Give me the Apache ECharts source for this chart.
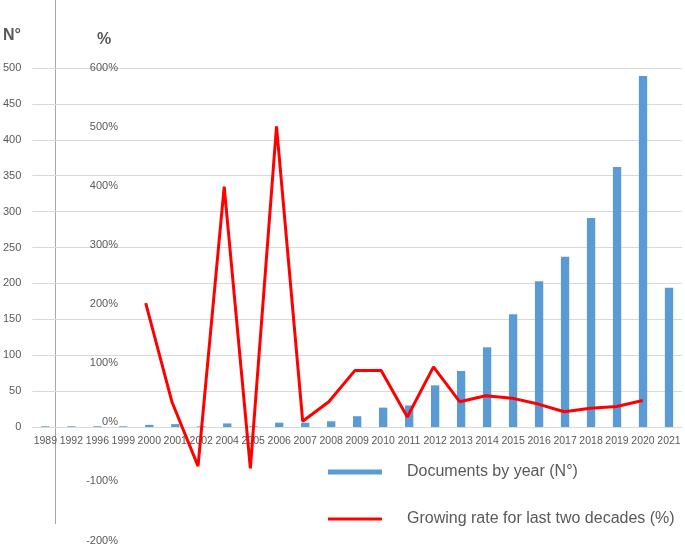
<!DOCTYPE html>
<html>
<head>
<meta charset="utf-8">
<script src="https://cdn.jsdelivr.net/npm/echarts@6/dist/echarts.min.js"></script>
<style>html,body{margin:0;padding:0;background:#fff;}#c{width:685px;height:546px;}</style>
</head>
<body>
<div id="c"></div>
<script>
const categories = ['1989','1992','1996','1999','2000','2001','2002','2004','2005','2006','2007','2008','2009','2010','2011','2012','2013','2014','2015','2016','2017','2018','2019','2020','2021'];
const documents = [1,1,1,1,3,4,1,5,1,6,6,8,15,27,30,58,78,111,157,203,237,291,362,489,194];
const growthRate = [null,null,null,null,202,35,-74,399,-78,501,2,35,88,88,9,94,35,45,41,31,18,24,27,37,null];
const leftTicks = {min:0, max:500, interval:50};
const rightTicks = {min:-200, max:600, interval:100};

const txt = '#595959';
const font = 'Liberation Sans';
const legendText = {color:txt, fontSize:16, fontFamily:font, padding:[8,0,0,20]};
const chart = echarts.init(document.getElementById('c'), null, {renderer:'canvas'});
chart.setOption({
  animation:false,
  textStyle:{fontFamily:font},
  grid:[
    {left:28, right:3, top:68, bottom:119},
    {left:28, right:3, top:68, bottom:3}
  ],
  xAxis:[
    {type:'category', gridIndex:0, data:categories,
     axisLine:{lineStyle:{color:'#D9D9D9'}}, axisTick:{show:false},
     axisLabel:{color:txt, fontSize:10.5, fontFamily:font, margin:9, interval:0}},
    {type:'category', gridIndex:1, data:categories, show:false}
  ],
  yAxis:[
    {type:'value', gridIndex:0, min:leftTicks.min, max:leftTicks.max, interval:leftTicks.interval,
     axisLine:{show:false}, axisTick:{show:false},
     axisLabel:{color:txt, fontSize:11, fontFamily:font, margin:11},
     splitLine:{lineStyle:{color:'#D9D9D9', width:1}}},
    {type:'value', gridIndex:1, min:rightTicks.min, max:rightTicks.max, interval:rightTicks.interval,
     position:'left', offset:-100,
     axisLine:{show:false}, axisTick:{show:false}, splitLine:{show:false},
     axisLabel:{color:txt, fontSize:11, fontFamily:font, margin:10, formatter:'{value}%'}}
  ],
  legend:[
    {left:323, top:459, itemWidth:54, itemHeight:5, textStyle:legendText,
     data:[{name:'Documents by year (N°)', icon:'path://M0,0H54V5H0Z'}]},
    {left:323, top:506, itemWidth:54, itemHeight:5, textStyle:legendText,
     data:[{name:'Growing rate for last two decades (%)', icon:'path://M0,1H54V4H0Z'}]}
  ],
  graphic:[
    {type:'line', shape:{x1:55.5, y1:0, x2:55.5, y2:524}, style:{stroke:'#A6A6A6', lineWidth:1}, z:0},
    {type:'text', left:3, top:28, style:{text:'N°', fill:txt, fontSize:16, fontWeight:'bold', fontFamily:font}},
    {type:'text', left:97, top:32, style:{text:'%', fill:txt, fontSize:16, fontWeight:'bold', fontFamily:font}}
  ],
  series:[
    {name:'Documents by year (N°)', type:'bar', xAxisIndex:0, yAxisIndex:0, data:documents,
     barWidth:'32%', itemStyle:{color:'#5B9BD5'}},
    {name:'Growing rate for last two decades (%)', type:'line', xAxisIndex:1, yAxisIndex:1, data:growthRate,
     symbol:'none', lineStyle:{color:'#FF0000', width:3}, itemStyle:{color:'#FF0000'}, connectNulls:false, z:5}
  ]
});
</script>
</body>
</html>
